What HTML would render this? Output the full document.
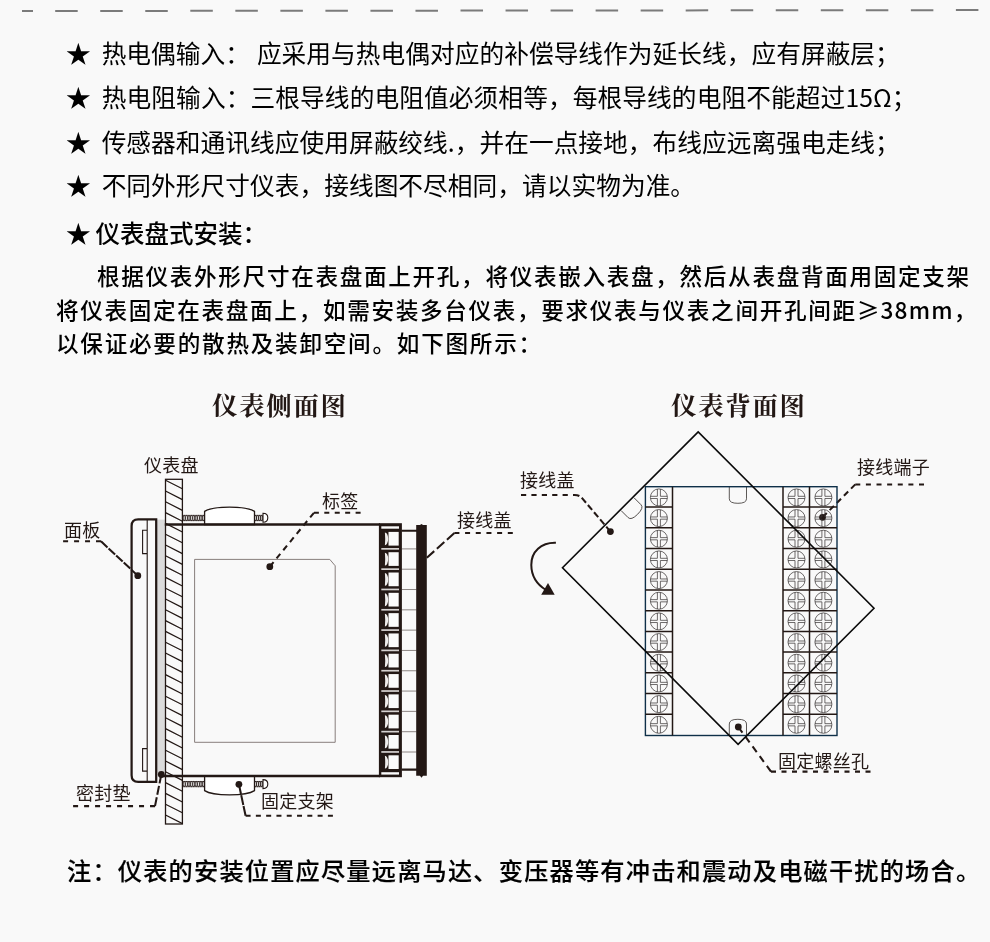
<!DOCTYPE html>
<html lang="zh-CN">
<head>
<meta charset="utf-8">
<title>仪表盘式安装</title>
<style>
html,body{margin:0;padding:0;}
body{width:990px;height:942px;background:#f9f9f9;overflow:hidden;position:relative;
 font-family:"Liberation Sans","Noto Sans CJK SC",sans-serif;color:#000;}
.t{will-change:transform;position:absolute;white-space:nowrap;line-height:1;margin:0;}
.b{font-size:24.7px;left:66px;}
.s{margin-right:4px;}
.n{font-family:"Noto Sans CJK SC","Liberation Sans",sans-serif;line-height:0;}
.p{font-size:22.6px;letter-spacing:1.6px;font-weight:500;left:55.8px;}
.h{font-family:"Liberation Serif","Noto Serif CJK SC",serif;font-weight:700;font-size:25.4px;letter-spacing:1.75px;color:#231815;}
.l{font-size:18px;letter-spacing:0.25px;font-weight:400;color:#231815;}
#dash{position:absolute;left:0;top:0;}
#dia{position:absolute;left:0;top:0;}
</style>
</head>
<body>
<svg id="dash" width="990" height="24" viewBox="0 0 990 24"><path d="M22 11.03L33 11.02M55.2 11L978.4 10.1" stroke="#7b7b7b" stroke-width="2" stroke-dasharray="22.5 22.535" fill="none"/></svg>
<svg id="dia" width="990" height="942" viewBox="0 0 990 942">
<defs>
<clipPath id="hc"><rect x="165.5" y="479.3" width="16.9" height="344.7"/></clipPath>
</defs>
<g fill="none" stroke="#231815">
<rect x="156.6" y="519.6" width="9" height="256" fill="#dbdbdb" stroke="none"/>
<rect x="165.5" y="479.3" width="16.9" height="344.7" fill="#f9f9f9" stroke-width="1.3"/>
<path clip-path="url(#hc)" stroke-width="1.25" d="M165.5 469.4L182.4 478.0M165.5 480.2L182.4 488.8M165.5 491.0L182.4 499.6M165.5 501.8L182.4 510.4M165.5 512.6L182.4 521.2M165.5 523.4L182.4 532.0M165.5 534.2L182.4 542.8M165.5 545.0L182.4 553.6M165.5 555.8L182.4 564.4M165.5 566.6L182.4 575.2M165.5 577.4L182.4 586.0M165.5 588.2L182.4 596.8M165.5 599.0L182.4 607.6M165.5 609.8L182.4 618.4M165.5 620.6L182.4 629.2M165.5 631.4L182.4 640.0M165.5 642.2L182.4 650.8M165.5 653.0L182.4 661.6M165.5 663.8L182.4 672.4M165.5 674.6L182.4 683.2M165.5 685.4L182.4 694.0M165.5 696.2L182.4 704.8M165.5 707.0L182.4 715.6M165.5 717.8L182.4 726.4M165.5 728.6L182.4 737.2M165.5 739.4L182.4 748.0M165.5 750.2L182.4 758.8M165.5 761.0L182.4 769.6M165.5 771.8L182.4 780.4M165.5 782.6L182.4 791.2M165.5 793.4L182.4 802.0M165.5 804.2L182.4 812.8M165.5 815.0L182.4 823.6M165.5 825.8L182.4 834.4"/>
<path stroke-width="2.25" d="M156.2 519.3H138.2Q131.6 519.3 131.6 525.9V775.2Q131.6 781.8 138.2 781.8H156.2Z"/>
<path stroke-width="1.1" d="M147.2 519.3V781.8M147.2 530.3H142.6V553.6H147.2M147.2 748.6H142.6V771.1H147.2"/>
<path stroke="#7a716e" stroke-width="0.9" d="M194.6 559.4H329.8L335.2 565.8V742.3H194.6Z"/>
<path stroke-width="0.8" d="M183 515.4H204.5M183 520.6H204.5M184.19 515.4a1 2.6 0 0 0 0 5.2a1 2.6 0 0 0 0 -5.2M186.58 515.4a1 2.6 0 0 0 0 5.2a1 2.6 0 0 0 0 -5.2M188.97 515.4a1 2.6 0 0 0 0 5.2a1 2.6 0 0 0 0 -5.2M191.36 515.4a1 2.6 0 0 0 0 5.2a1 2.6 0 0 0 0 -5.2M193.75 515.4a1 2.6 0 0 0 0 5.2a1 2.6 0 0 0 0 -5.2M196.14 515.4a1 2.6 0 0 0 0 5.2a1 2.6 0 0 0 0 -5.2M198.53 515.4a1 2.6 0 0 0 0 5.2a1 2.6 0 0 0 0 -5.2M200.92 515.4a1 2.6 0 0 0 0 5.2a1 2.6 0 0 0 0 -5.2M203.31 515.4a1 2.6 0 0 0 0 5.2a1 2.6 0 0 0 0 -5.2"/>
<path stroke-width="0.8" d="M254.5 515.4H262.8M254.5 520.6H262.8M255.54 515.4a1 2.6 0 0 0 0 5.2a1 2.6 0 0 0 0 -5.2M257.61 515.4a1 2.6 0 0 0 0 5.2a1 2.6 0 0 0 0 -5.2M259.69 515.4a1 2.6 0 0 0 0 5.2a1 2.6 0 0 0 0 -5.2M261.76 515.4a1 2.6 0 0 0 0 5.2a1 2.6 0 0 0 0 -5.2"/>
<path stroke-width="0.8" d="M183 781.5H204.5M183 786.7H204.5M184.19 781.5a1 2.6 0 0 0 0 5.2a1 2.6 0 0 0 0 -5.2M186.58 781.5a1 2.6 0 0 0 0 5.2a1 2.6 0 0 0 0 -5.2M188.97 781.5a1 2.6 0 0 0 0 5.2a1 2.6 0 0 0 0 -5.2M191.36 781.5a1 2.6 0 0 0 0 5.2a1 2.6 0 0 0 0 -5.2M193.75 781.5a1 2.6 0 0 0 0 5.2a1 2.6 0 0 0 0 -5.2M196.14 781.5a1 2.6 0 0 0 0 5.2a1 2.6 0 0 0 0 -5.2M198.53 781.5a1 2.6 0 0 0 0 5.2a1 2.6 0 0 0 0 -5.2M200.92 781.5a1 2.6 0 0 0 0 5.2a1 2.6 0 0 0 0 -5.2M203.31 781.5a1 2.6 0 0 0 0 5.2a1 2.6 0 0 0 0 -5.2"/>
<path stroke-width="0.8" d="M254.5 781.5H262.8M254.5 786.7H262.8M255.54 781.5a1 2.6 0 0 0 0 5.2a1 2.6 0 0 0 0 -5.2M257.61 781.5a1 2.6 0 0 0 0 5.2a1 2.6 0 0 0 0 -5.2M259.69 781.5a1 2.6 0 0 0 0 5.2a1 2.6 0 0 0 0 -5.2M261.76 781.5a1 2.6 0 0 0 0 5.2a1 2.6 0 0 0 0 -5.2"/>
<path stroke-width="1.3" fill="#fff" d="M204.6 524.5V511.4C213 505.6 246 505.6 254.5 511.4V524.5Z"/>
<path stroke-width="1.3" fill="#fff" d="M204.6 776.2V790.6C213 796.3 246 796.3 254.5 790.6V776.2Z"/>
<path stroke-width="1.1" fill="#fff" d="M263 513.3C269.4 513.3 269.4 522.3 263 522.3Z"/>
<path stroke-width="1.1" fill="#fff" d="M263 779.6C269.4 779.6 269.4 788.6 263 788.6Z"/>
<path stroke-width="2.3" d="M164.8 524.5H380M161.6 776H380"/>
<rect x="378.9" y="523.2" width="23" height="254" fill="#231815" stroke="none"/>
<rect x="381.3" y="526.3" width="17.7" height="2.4" fill="#fbfbfb" stroke="none"/>
<rect x="381.3" y="772.2" width="17.7" height="2.4" fill="#fbfbfb" stroke="none"/>
<rect x="388.5" y="531.90" width="10.2" height="13.7" fill="#fbfbfb" stroke="none"/>
<path fill="#efedec" stroke="none" d="M384.9 532.40A3.3 6.4 0 0 1 384.9 545.20Q385.5 538.80 384.9 532.40Z"/>
<rect x="381.3" y="548.00" width="17.7" height="1.7" fill="#d6d2d1" stroke="none"/>
<path stroke="#5e5552" stroke-width="0.7" d="M402 548.90H416.5"/>
<rect x="388.5" y="552.21" width="10.2" height="13.7" fill="#fbfbfb" stroke="none"/>
<path fill="#efedec" stroke="none" d="M384.9 552.71A3.3 6.4 0 0 1 384.9 565.51Q385.5 559.11 384.9 552.71Z"/>
<rect x="381.3" y="568.31" width="17.7" height="1.7" fill="#d6d2d1" stroke="none"/>
<path stroke="#5e5552" stroke-width="0.7" d="M402 569.21H416.5"/>
<rect x="388.5" y="572.52" width="10.2" height="13.7" fill="#fbfbfb" stroke="none"/>
<path fill="#efedec" stroke="none" d="M384.9 573.02A3.3 6.4 0 0 1 384.9 585.82Q385.5 579.42 384.9 573.02Z"/>
<rect x="381.3" y="588.62" width="17.7" height="1.7" fill="#d6d2d1" stroke="none"/>
<path stroke="#5e5552" stroke-width="0.7" d="M402 589.52H416.5"/>
<rect x="388.5" y="592.83" width="10.2" height="13.7" fill="#fbfbfb" stroke="none"/>
<path fill="#efedec" stroke="none" d="M384.9 593.33A3.3 6.4 0 0 1 384.9 606.13Q385.5 599.73 384.9 593.33Z"/>
<rect x="381.3" y="608.93" width="17.7" height="1.7" fill="#d6d2d1" stroke="none"/>
<path stroke="#5e5552" stroke-width="0.7" d="M402 609.83H416.5"/>
<rect x="388.5" y="613.14" width="10.2" height="13.7" fill="#fbfbfb" stroke="none"/>
<path fill="#efedec" stroke="none" d="M384.9 613.64A3.3 6.4 0 0 1 384.9 626.44Q385.5 620.04 384.9 613.64Z"/>
<rect x="381.3" y="629.24" width="17.7" height="1.7" fill="#d6d2d1" stroke="none"/>
<path stroke="#5e5552" stroke-width="0.7" d="M402 630.14H416.5"/>
<rect x="388.5" y="633.45" width="10.2" height="13.7" fill="#fbfbfb" stroke="none"/>
<path fill="#efedec" stroke="none" d="M384.9 633.95A3.3 6.4 0 0 1 384.9 646.75Q385.5 640.35 384.9 633.95Z"/>
<rect x="381.3" y="649.55" width="17.7" height="1.7" fill="#d6d2d1" stroke="none"/>
<path stroke="#5e5552" stroke-width="0.7" d="M402 650.45H416.5"/>
<rect x="388.5" y="653.76" width="10.2" height="13.7" fill="#fbfbfb" stroke="none"/>
<path fill="#efedec" stroke="none" d="M384.9 654.26A3.3 6.4 0 0 1 384.9 667.06Q385.5 660.66 384.9 654.26Z"/>
<rect x="381.3" y="669.86" width="17.7" height="1.7" fill="#d6d2d1" stroke="none"/>
<path stroke="#5e5552" stroke-width="0.7" d="M402 670.76H416.5"/>
<rect x="388.5" y="674.07" width="10.2" height="13.7" fill="#fbfbfb" stroke="none"/>
<path fill="#efedec" stroke="none" d="M384.9 674.57A3.3 6.4 0 0 1 384.9 687.37Q385.5 680.97 384.9 674.57Z"/>
<rect x="381.3" y="690.17" width="17.7" height="1.7" fill="#d6d2d1" stroke="none"/>
<path stroke="#5e5552" stroke-width="0.7" d="M402 691.07H416.5"/>
<rect x="388.5" y="694.38" width="10.2" height="13.7" fill="#fbfbfb" stroke="none"/>
<path fill="#efedec" stroke="none" d="M384.9 694.88A3.3 6.4 0 0 1 384.9 707.68Q385.5 701.28 384.9 694.88Z"/>
<rect x="381.3" y="710.48" width="17.7" height="1.7" fill="#d6d2d1" stroke="none"/>
<path stroke="#5e5552" stroke-width="0.7" d="M402 711.38H416.5"/>
<rect x="388.5" y="714.69" width="10.2" height="13.7" fill="#fbfbfb" stroke="none"/>
<path fill="#efedec" stroke="none" d="M384.9 715.19A3.3 6.4 0 0 1 384.9 727.99Q385.5 721.59 384.9 715.19Z"/>
<rect x="381.3" y="730.79" width="17.7" height="1.7" fill="#d6d2d1" stroke="none"/>
<path stroke="#5e5552" stroke-width="0.7" d="M402 731.69H416.5"/>
<rect x="388.5" y="735.00" width="10.2" height="13.7" fill="#fbfbfb" stroke="none"/>
<path fill="#efedec" stroke="none" d="M384.9 735.50A3.3 6.4 0 0 1 384.9 748.30Q385.5 741.90 384.9 735.50Z"/>
<rect x="381.3" y="751.10" width="17.7" height="1.7" fill="#d6d2d1" stroke="none"/>
<path stroke="#5e5552" stroke-width="0.7" d="M402 752.00H416.5"/>
<rect x="388.5" y="755.31" width="10.2" height="13.7" fill="#fbfbfb" stroke="none"/>
<path fill="#efedec" stroke="none" d="M384.9 755.81A3.3 6.4 0 0 1 384.9 768.61Q385.5 762.21 384.9 755.81Z"/>
<path stroke-width="2.1" d="M401.5 530.7H417M401.5 769.6H417"/>
<path fill="#231815" stroke="none" d="M416.2 524.9H420L421.5 524L423 524.9H426.8V775.8H423L421.5 777.8L420 775.8H416.2Z"/>
</g>
<g fill="none" stroke="#231815" stroke-width="2.05">
<path stroke-dasharray="5 5.97" d="M63.1 541.3H101"/>
<path stroke-dasharray="8.9 1.47" d="M101 541.3L137.8 575.7"/>
<path stroke-dasharray="5 5.43" d="M360.6 512.8H313.9"/>
<path stroke-dasharray="5.9 4.72" d="M313.9 512.8L269.8 566.7"/>
<path stroke-dasharray="5 5.68" d="M512.8 533H454.4"/>
<path stroke-dasharray="10.0 3.55" d="M454.4 533L426.8 557.8"/>
<path stroke-dasharray="5 5.99" d="M73.1 806.1H155"/>
<path stroke-dasharray="9.0 2.61" d="M155 806.1L161.3 774.5"/>
<path stroke-dasharray="5 5.29" d="M332.9 815.8H245.6"/>
<path stroke-dasharray="10.0 1.10" d="M245.6 815.8L238.9 784.3"/>
<path stroke-dasharray="5 5.62" d="M924 484.4H855.3"/>
<path stroke-dasharray="6.0 4.11" d="M855.3 484.4L822.5 517.3"/>
<path stroke-dasharray="5 5.50" d="M870.5 771.6H771"/>
<path stroke-dasharray="7.0 5.08" d="M771 771.6L738.3 727"/>
<path stroke-dasharray="5.2 5.2" d="M521 494.9H574.6"/>
<path stroke-dasharray="6.5 2.97" d="M573 494.9H574.6Q579.5 494.9 582.5 498.6L610.4 531.6"/>
</g>
<g fill="#231815" stroke="none">
<circle cx="137.8" cy="575.7" r="3.4"/>
<circle cx="269.8" cy="566.7" r="3.4"/>
<circle cx="161.3" cy="774.5" r="3.4"/>
<circle cx="238.9" cy="784.3" r="3.4"/>
<circle cx="610.4" cy="531.6" r="3.4"/>
<circle cx="822.5" cy="517.3" r="3.4"/>
<circle cx="738.3" cy="727" r="3.4"/>
</g>
<g fill="none">
<path stroke="#4b4644" stroke-width="0.9" d="M729.3 486.7V498.8Q729.3 503.3 737.9 503.3Q746.5 503.3 746.5 498.8V486.7"/>
<path stroke="#4b4644" stroke-width="0.9" d="M729.3 735.5V724Q729.3 719.3 737.9 719.3Q746.5 719.3 746.5 724V735.5"/>
<g transform="translate(627.6 504.2) rotate(-45)"><path stroke="#4b4644" stroke-width="0.9" d="M-9.1 0V9.8Q-9.1 14.2 0 14.2Q9.1 14.2 9.1 9.8V0"/></g>
<rect x="645.4" y="486.7" width="191.6" height="248.8" stroke="#0f3049" stroke-width="1.4"/>
<path stroke="#231815" stroke-width="1.5" d="M672.5 486.7V735.5M783 486.7V735.5M809.5 486.7V735.5M645.4 507.00H672.5M783 507.00H837M645.4 527.73H672.5M783 527.73H837M645.4 548.46H672.5M783 548.46H837M645.4 569.19H672.5M783 569.19H837M645.4 589.92H672.5M783 589.92H837M645.4 610.65H672.5M783 610.65H837M645.4 631.38H672.5M783 631.38H837M645.4 652.11H672.5M783 652.11H837M645.4 672.84H672.5M783 672.84H837M645.4 693.57H672.5M783 693.57H837M645.4 714.30H672.5M783 714.30H837"/>
<g fill="none" stroke="#3e3a39" stroke-width="0.75">
<g transform="translate(658.9 497.40)"><circle r="8.5"/><path d="M-1.5 -8.3V-1.1H-8.4M1.5 -8.3V-1.1H8.4M-1.5 8.3V1.1H-8.4M1.5 8.3V1.1H8.4"/></g>
<g transform="translate(796.5 497.40)"><circle r="8.5"/><path d="M-1.5 -8.3V-1.1H-8.4M1.5 -8.3V-1.1H8.4M-1.5 8.3V1.1H-8.4M1.5 8.3V1.1H8.4"/></g>
<g transform="translate(823.4 497.40)"><circle r="8.5"/><path d="M-1.5 -8.3V-1.1H-8.4M1.5 -8.3V-1.1H8.4M-1.5 8.3V1.1H-8.4M1.5 8.3V1.1H8.4"/></g>
<g transform="translate(658.9 518.07)"><circle r="8.5"/><path d="M-1.5 -8.3V-1.1H-8.4M1.5 -8.3V-1.1H8.4M-1.5 8.3V1.1H-8.4M1.5 8.3V1.1H8.4"/></g>
<g transform="translate(796.5 518.07)"><circle r="8.5"/><path d="M-1.5 -8.3V-1.1H-8.4M1.5 -8.3V-1.1H8.4M-1.5 8.3V1.1H-8.4M1.5 8.3V1.1H8.4"/></g>
<g transform="translate(823.4 518.07)"><circle r="8.5"/><path d="M-1.5 -8.3V-1.1H-8.4M1.5 -8.3V-1.1H8.4M-1.5 8.3V1.1H-8.4M1.5 8.3V1.1H8.4"/></g>
<g transform="translate(658.9 538.74)"><circle r="8.5"/><path d="M-1.5 -8.3V-1.1H-8.4M1.5 -8.3V-1.1H8.4M-1.5 8.3V1.1H-8.4M1.5 8.3V1.1H8.4"/></g>
<g transform="translate(796.5 538.74)"><circle r="8.5"/><path d="M-1.5 -8.3V-1.1H-8.4M1.5 -8.3V-1.1H8.4M-1.5 8.3V1.1H-8.4M1.5 8.3V1.1H8.4"/></g>
<g transform="translate(823.4 538.74)"><circle r="8.5"/><path d="M-1.5 -8.3V-1.1H-8.4M1.5 -8.3V-1.1H8.4M-1.5 8.3V1.1H-8.4M1.5 8.3V1.1H8.4"/></g>
<g transform="translate(658.9 559.41)"><circle r="8.5"/><path d="M-1.5 -8.3V-1.1H-8.4M1.5 -8.3V-1.1H8.4M-1.5 8.3V1.1H-8.4M1.5 8.3V1.1H8.4"/></g>
<g transform="translate(796.5 559.41)"><circle r="8.5"/><path d="M-1.5 -8.3V-1.1H-8.4M1.5 -8.3V-1.1H8.4M-1.5 8.3V1.1H-8.4M1.5 8.3V1.1H8.4"/></g>
<g transform="translate(823.4 559.41)"><circle r="8.5"/><path d="M-1.5 -8.3V-1.1H-8.4M1.5 -8.3V-1.1H8.4M-1.5 8.3V1.1H-8.4M1.5 8.3V1.1H8.4"/></g>
<g transform="translate(658.9 580.08)"><circle r="8.5"/><path d="M-1.5 -8.3V-1.1H-8.4M1.5 -8.3V-1.1H8.4M-1.5 8.3V1.1H-8.4M1.5 8.3V1.1H8.4"/></g>
<g transform="translate(796.5 580.08)"><circle r="8.5"/><path d="M-1.5 -8.3V-1.1H-8.4M1.5 -8.3V-1.1H8.4M-1.5 8.3V1.1H-8.4M1.5 8.3V1.1H8.4"/></g>
<g transform="translate(823.4 580.08)"><circle r="8.5"/><path d="M-1.5 -8.3V-1.1H-8.4M1.5 -8.3V-1.1H8.4M-1.5 8.3V1.1H-8.4M1.5 8.3V1.1H8.4"/></g>
<g transform="translate(658.9 600.75)"><circle r="8.5"/><path d="M-1.5 -8.3V-1.1H-8.4M1.5 -8.3V-1.1H8.4M-1.5 8.3V1.1H-8.4M1.5 8.3V1.1H8.4"/></g>
<g transform="translate(796.5 600.75)"><circle r="8.5"/><path d="M-1.5 -8.3V-1.1H-8.4M1.5 -8.3V-1.1H8.4M-1.5 8.3V1.1H-8.4M1.5 8.3V1.1H8.4"/></g>
<g transform="translate(823.4 600.75)"><circle r="8.5"/><path d="M-1.5 -8.3V-1.1H-8.4M1.5 -8.3V-1.1H8.4M-1.5 8.3V1.1H-8.4M1.5 8.3V1.1H8.4"/></g>
<g transform="translate(658.9 621.42)"><circle r="8.5"/><path d="M-1.5 -8.3V-1.1H-8.4M1.5 -8.3V-1.1H8.4M-1.5 8.3V1.1H-8.4M1.5 8.3V1.1H8.4"/></g>
<g transform="translate(796.5 621.42)"><circle r="8.5"/><path d="M-1.5 -8.3V-1.1H-8.4M1.5 -8.3V-1.1H8.4M-1.5 8.3V1.1H-8.4M1.5 8.3V1.1H8.4"/></g>
<g transform="translate(823.4 621.42)"><circle r="8.5"/><path d="M-1.5 -8.3V-1.1H-8.4M1.5 -8.3V-1.1H8.4M-1.5 8.3V1.1H-8.4M1.5 8.3V1.1H8.4"/></g>
<g transform="translate(658.9 642.09)"><circle r="8.5"/><path d="M-1.5 -8.3V-1.1H-8.4M1.5 -8.3V-1.1H8.4M-1.5 8.3V1.1H-8.4M1.5 8.3V1.1H8.4"/></g>
<g transform="translate(796.5 642.09)"><circle r="8.5"/><path d="M-1.5 -8.3V-1.1H-8.4M1.5 -8.3V-1.1H8.4M-1.5 8.3V1.1H-8.4M1.5 8.3V1.1H8.4"/></g>
<g transform="translate(823.4 642.09)"><circle r="8.5"/><path d="M-1.5 -8.3V-1.1H-8.4M1.5 -8.3V-1.1H8.4M-1.5 8.3V1.1H-8.4M1.5 8.3V1.1H8.4"/></g>
<g transform="translate(658.9 662.76)"><circle r="8.5"/><path d="M-1.5 -8.3V-1.1H-8.4M1.5 -8.3V-1.1H8.4M-1.5 8.3V1.1H-8.4M1.5 8.3V1.1H8.4"/></g>
<g transform="translate(796.5 662.76)"><circle r="8.5"/><path d="M-1.5 -8.3V-1.1H-8.4M1.5 -8.3V-1.1H8.4M-1.5 8.3V1.1H-8.4M1.5 8.3V1.1H8.4"/></g>
<g transform="translate(823.4 662.76)"><circle r="8.5"/><path d="M-1.5 -8.3V-1.1H-8.4M1.5 -8.3V-1.1H8.4M-1.5 8.3V1.1H-8.4M1.5 8.3V1.1H8.4"/></g>
<g transform="translate(658.9 683.43)"><circle r="8.5"/><path d="M-1.5 -8.3V-1.1H-8.4M1.5 -8.3V-1.1H8.4M-1.5 8.3V1.1H-8.4M1.5 8.3V1.1H8.4"/></g>
<g transform="translate(796.5 683.43)"><circle r="8.5"/><path d="M-1.5 -8.3V-1.1H-8.4M1.5 -8.3V-1.1H8.4M-1.5 8.3V1.1H-8.4M1.5 8.3V1.1H8.4"/></g>
<g transform="translate(823.4 683.43)"><circle r="8.5"/><path d="M-1.5 -8.3V-1.1H-8.4M1.5 -8.3V-1.1H8.4M-1.5 8.3V1.1H-8.4M1.5 8.3V1.1H8.4"/></g>
<g transform="translate(658.9 704.10)"><circle r="8.5"/><path d="M-1.5 -8.3V-1.1H-8.4M1.5 -8.3V-1.1H8.4M-1.5 8.3V1.1H-8.4M1.5 8.3V1.1H8.4"/></g>
<g transform="translate(796.5 704.10)"><circle r="8.5"/><path d="M-1.5 -8.3V-1.1H-8.4M1.5 -8.3V-1.1H8.4M-1.5 8.3V1.1H-8.4M1.5 8.3V1.1H8.4"/></g>
<g transform="translate(823.4 704.10)"><circle r="8.5"/><path d="M-1.5 -8.3V-1.1H-8.4M1.5 -8.3V-1.1H8.4M-1.5 8.3V1.1H-8.4M1.5 8.3V1.1H8.4"/></g>
<g transform="translate(658.9 724.77)"><circle r="8.5"/><path d="M-1.5 -8.3V-1.1H-8.4M1.5 -8.3V-1.1H8.4M-1.5 8.3V1.1H-8.4M1.5 8.3V1.1H8.4"/></g>
<g transform="translate(796.5 724.77)"><circle r="8.5"/><path d="M-1.5 -8.3V-1.1H-8.4M1.5 -8.3V-1.1H8.4M-1.5 8.3V1.1H-8.4M1.5 8.3V1.1H8.4"/></g>
<g transform="translate(823.4 724.77)"><circle r="8.5"/><path d="M-1.5 -8.3V-1.1H-8.4M1.5 -8.3V-1.1H8.4M-1.5 8.3V1.1H-8.4M1.5 8.3V1.1H8.4"/></g>
</g>
<path stroke="#0a0a0a" stroke-width="1.6" stroke-linejoin="miter" d="M698.2 431.9L562.5 567.7L738.1 744.4L874 608.2Z"/>
<path stroke="#231815" stroke-width="2" d="M555.9 542.8C541 542.3 531.2 552 531.3 565C531.4 576 537 584.5 546 590"/>
<path fill="#231815" d="M541.2 594.8L548 583L554.7 594.8Z"/>
</g>
</svg>
<p class="t b" style="top:42.5px;letter-spacing:0.04px"><span class="s">★</span> 热电偶输入： 应采用与热电偶对应的补偿导线作为延长线，应有屏蔽层；</p>
<p class="t b" style="top:86.5px;letter-spacing:0.1px"><span class="s">★</span> 热电阻输入：三根导线的电阻值必须相等，每根导线的电阻不能超过<span class="n">15Ω</span>；</p>
<p class="t b" style="top:131.5px;letter-spacing:0.04px"><span class="s">★</span> 传感器和通讯线应使用屏蔽绞线<span class="n">.</span>，并在一点接地，布线应远离强电走线；</p>
<p class="t b" style="top:175px;letter-spacing:0.04px"><span class="s">★</span> 不同外形尺寸仪表，接线图不尽相同，请以实物为准。</p>
<p class="t b" style="top:222.5px"><span style="margin-right:4.8px">★</span><span style="font-weight:500;font-size:24.5px">仪表盘式安装：</span></p>
<p class="t p" style="top:266.9px;left:97px;letter-spacing:1.68px">根据仪表外形尺寸在表盘面上开孔，将仪表嵌入表盘，然后从表盘背面用固定支架</p>
<p class="t p" style="top:300.5px;letter-spacing:1.67px">将仪表固定在表盘面上，如需安装多台仪表，要求仪表与仪表之间开孔间距<span class="n" style="letter-spacing:1.19px">≥38mm</span>，</p>
<p class="t p" style="top:333.6px;letter-spacing:1.75px">以保证必要的散热及装卸空间。如下图所示：</p>
<p class="t h" style="top:394px;left:212.4px">仪表侧面图</p>
<p class="t h" style="top:394px;left:671.4px">仪表背面图</p>
<p class="t l" style="left:143.7px;top:456.7px">仪表盘</p>
<p class="t l" style="left:64.2px;top:521.5px">面板</p>
<p class="t l" style="left:322.2px;top:492.8px">标签</p>
<p class="t l" style="left:457.2px;top:511.9px">接线盖</p>
<p class="t l" style="left:75.6px;top:784.7px">密封垫</p>
<p class="t l" style="left:260.7px;top:792.6px">固定支架</p>
<p class="t l" style="left:520.2px;top:472.3px">接线盖</p>
<p class="t l" style="left:857.4px;top:458.6px">接线端子</p>
<p class="t l" style="left:777.6px;top:752.6px">固定螺丝孔</p>
<p class="t p" style="top:859.6px;left:66.6px;font-size:24.2px;letter-spacing:1.21px;font-weight:500;-webkit-text-stroke:0.15px #000">注：仪表的安装位置应尽量远离马达、变压器等有冲击和震动及电磁干扰的场合。</p>
</body>
</html>
